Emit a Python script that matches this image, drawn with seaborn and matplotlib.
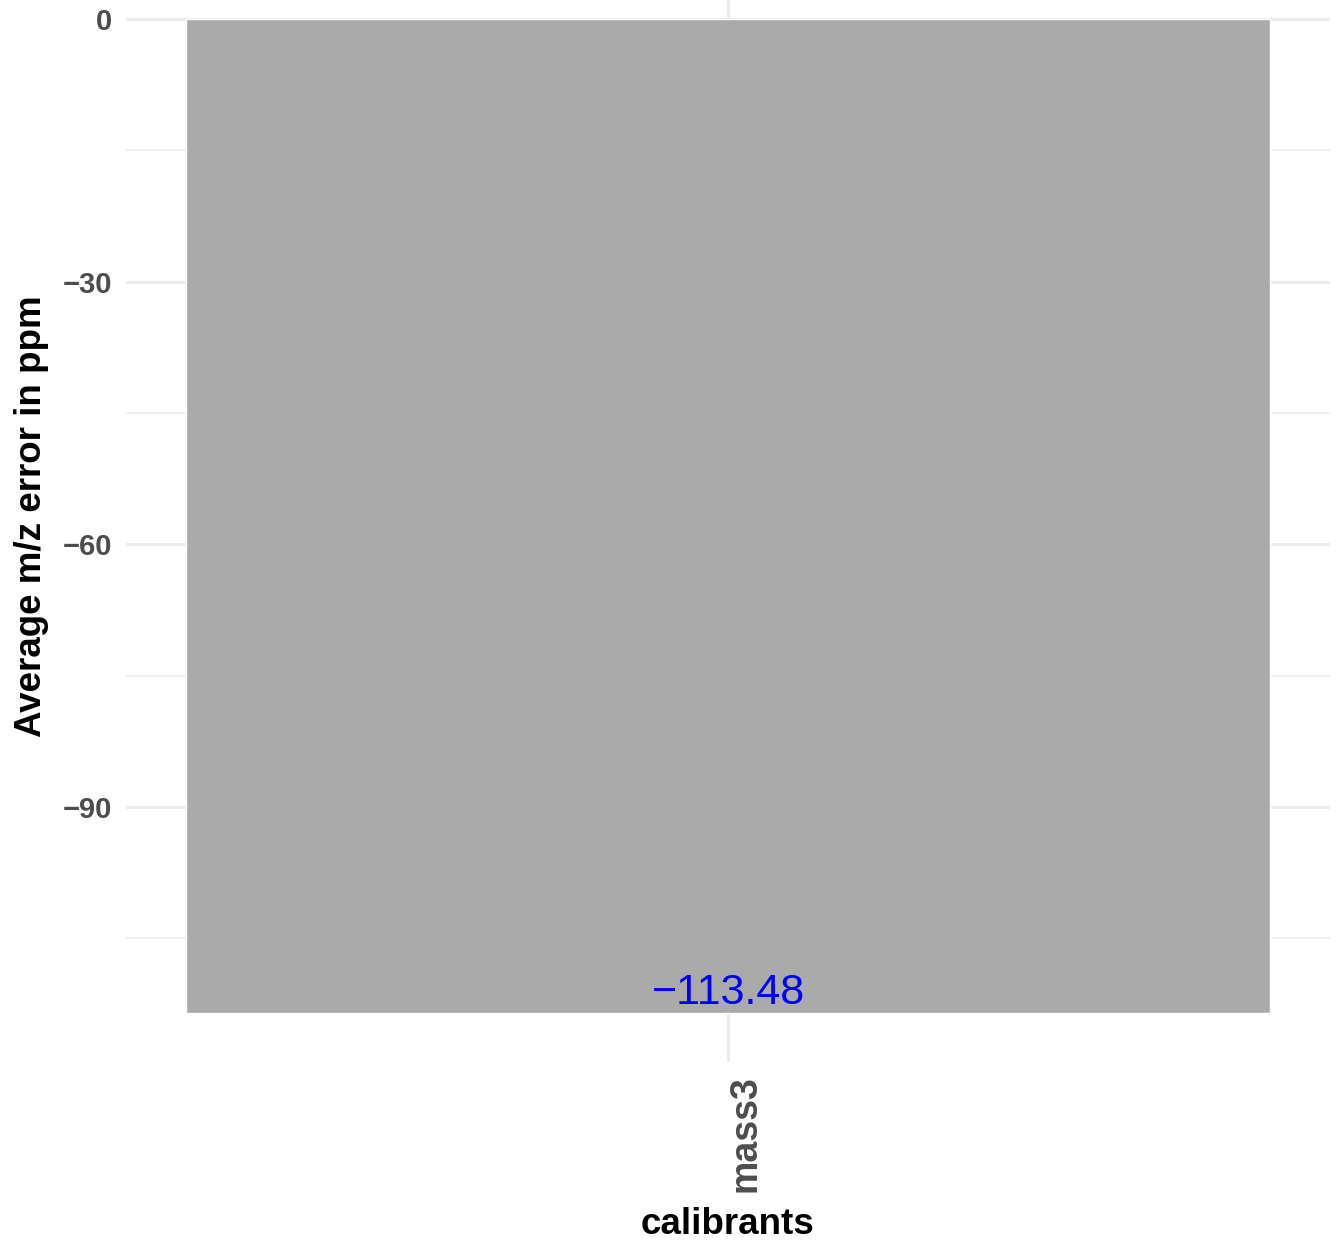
import matplotlib
matplotlib.use("Agg")
import matplotlib.pyplot as plt
import seaborn as sns
import pandas as pd

categories = ["mass3"]
values = [-113.48]
labels = ["\u2212113.48"]

sns.set_theme(style="white")
plt.rcParams["font.family"] = ["Liberation Sans", "DejaVu Sans"]

df = pd.DataFrame({"calibrants": categories, "error": values})

W, H = 1341, 1248
fig = plt.figure(figsize=(W / 100, H / 100), dpi=100)
# panel extends above the visible figure (top is cropped as in the reference)
top_px = -30.7
bot_px = 1062.3
ax = fig.add_axes([126 / W, 1 - bot_px / H, (1330 - 126) / W, (bot_px - top_px) / H])

sns.barplot(data=df, x="calibrants", y="error", color="#AAAAAA", saturation=1,
            width=0.9, ax=ax, zorder=2)

vmin = min(values)
ax.set_ylim(vmin * 1.05, -vmin * 0.05)
ax.set_xlim(-0.5, 0.5)

ax.set_yticks([0, -30, -60, -90])
ax.set_yticklabels(["0", "\u221230", "\u221260", "\u221290"])
ax.set_yticks([-15, -45, -75, -105], minor=True)
ax.grid(True, which="major", axis="both", color="#EBEBEB", linewidth=2.2, zorder=0)
ax.grid(True, which="minor", axis="y", color="#EBEBEB", linewidth=1.1, zorder=0)
ax.set_axisbelow(True)
for s in ax.spines.values():
    s.set_visible(False)

ax.tick_params(axis="y", which="both", length=0, pad=10, labelsize=21, labelcolor="#4D4D4D")
ax.tick_params(axis="x", which="both", length=0, pad=9, labelsize=27, labelcolor="#4D4D4D")
for t in ax.get_yticklabels():
    t.set_fontweight("bold")
for t in ax.get_xticklabels():
    t.set_fontweight("bold")
    t.set_rotation(90)
    t.set_va("top")
    t.set_ha("left")

ax.set_xlabel("calibrants", fontsize=26.5, fontweight="bold", color="black", labelpad=11)
ax.set_ylabel("Average m/z error in ppm", fontsize=26.5, fontweight="bold", color="black", labelpad=10)

for i, (v, lab) in enumerate(zip(values, labels)):
    ax.annotate(lab, xy=(i, v), xytext=(0, 6.5), textcoords="offset points",
                ha="center", va="baseline", color="blue", fontsize=31, zorder=3)

fig.savefig("out.png", dpi=100)
